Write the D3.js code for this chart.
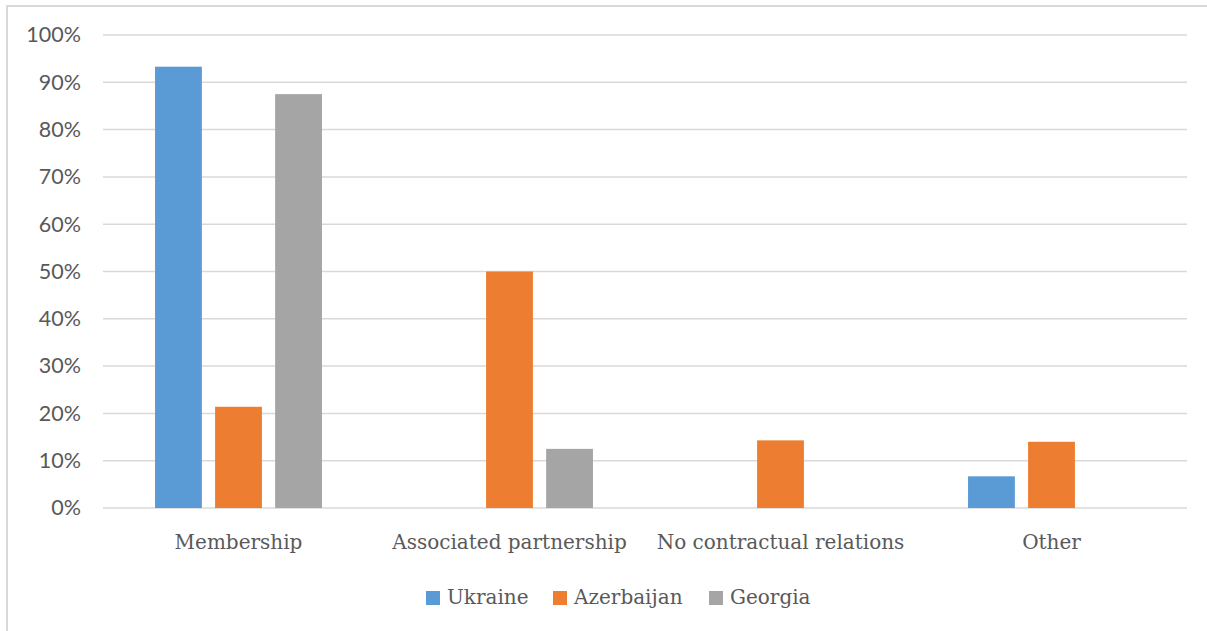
<!DOCTYPE html>
<html>
<head>
<meta charset="utf-8">
<script src="https://cdn.jsdelivr.net/npm/d3@7/dist/d3.min.js"></script>
<style>
  html, body { margin: 0; padding: 0; background: #fff; }
  svg { display: block; }
  .serif { font-family: "DejaVu Serif", "Liberation Serif", "Times New Roman", serif; }
</style>
</head>
<body>
<svg id="chart" width="1207" height="631"></svg>
<script>
// Categories, series and values (percent)
const categories = ["Membership", "Associated partnership", "No contractual relations", "Other"];
const seriesNames = ["Ukraine", "Azerbaijan", "Georgia"];
const ukraine    = [93.3, 0, 0, 6.7];
const azerbaijan = [21.4, 50.0, 14.3, 14.0];
const georgia    = [87.5, 12.5, 0, 0];
const seriesColors = ["#5b9bd5", "#ed7d31", "#a5a5a5"];
const yTicks = [0, 10, 20, 30, 40, 50, 60, 70, 80, 90, 100];

const seriesValues = [ukraine, azerbaijan, georgia];

const svg = d3.select("#chart");
const W = 1207, H = 631;
const plot = { left: 103, right: 1187, top: 35, bottom: 508 };

// Outer chart frame
svg.append("rect")
  .attr("x", 7).attr("y", 6)
  .attr("width", W + 10).attr("height", H + 10)
  .attr("fill", "#fff")
  .attr("stroke", "#d9d9d9").attr("stroke-width", 2);

const y = d3.scaleLinear().domain([0, 100]).range([plot.bottom, plot.top]);

const x0 = d3.scaleBand()
  .domain(categories)
  .range([plot.left, plot.right])
  .paddingInner(0.384)
  .paddingOuter(0.192);

const x1 = d3.scaleBand()
  .domain(seriesNames)
  .range([0, x0.bandwidth()])
  .paddingInner(0.22)
  .paddingOuter(0);

const color = d3.scaleOrdinal().domain(seriesNames).range(seriesColors);

// Horizontal gridlines
svg.append("g")
  .selectAll("line")
  .data(yTicks)
  .join("line")
  .attr("x1", plot.left).attr("x2", plot.right)
  .attr("y1", d => y(d)).attr("y2", d => y(d))
  .attr("stroke", "#d9d9d9").attr("stroke-width", 1.5);

// Y axis labels
const yAxis = d3.axisLeft(y)
  .tickValues(yTicks)
  .tickFormat(d => d + "%")
  .tickSize(0)
  .tickPadding(0);
const yG = svg.append("g")
  .attr("transform", `translate(${81},0)`)
  .call(yAxis)
  .attr("font-family", null)
  .attr("font-size", null);
yG.select(".domain").remove();
yG.selectAll("text")
  .attr("fill", "#595959")
  .style("font-family", "Lato, 'Open Sans', sans-serif")
  .style("font-size", "21.5px");

// Bars
const rows = categories.map((c, i) => ({
  category: c,
  values: seriesNames.map((s, j) => ({ series: s, value: seriesValues[j][i] }))
}));

svg.append("g")
  .selectAll("g")
  .data(rows)
  .join("g")
  .attr("transform", d => `translate(${x0(d.category)},0)`)
  .selectAll("rect")
  .data(d => d.values.filter(v => v.value > 0))
  .join("rect")
  .attr("x", d => x1(d.series))
  .attr("y", d => y(d.value))
  .attr("width", x1.bandwidth())
  .attr("height", d => y(0) - y(d.value))
  .attr("fill", d => color(d.series));

// Category labels
const xAxis = d3.axisBottom(x0).tickSize(0).tickPadding(0);
const xG = svg.append("g")
  .attr("transform", `translate(0,${plot.bottom})`)
  .call(xAxis)
  .attr("font-family", null)
  .attr("font-size", null);
xG.select(".domain").remove();
xG.selectAll("text")
  .attr("class", "serif")
  .attr("dy", 0)
  .attr("y", 41)
  .attr("fill", "#595959")
  .style("font-size", "20px");

// Legend
const legendItems = [
  { name: "Ukraine", x: 426 },
  { name: "Azerbaijan", x: 553 },
  { name: "Georgia", x: 709 }
];
const lg = svg.append("g");
const li = lg.selectAll("g").data(legendItems).join("g")
  .attr("transform", d => `translate(${d.x},591)`);
li.append("rect")
  .attr("width", 14).attr("height", 14)
  .attr("fill", d => color(d.name));
li.append("text")
  .attr("class", "serif")
  .attr("x", 21).attr("y", 13)
  .attr("fill", "#595959")
  .style("font-size", "20px")
  .text(d => d.name);
</script>
</body>
</html>
